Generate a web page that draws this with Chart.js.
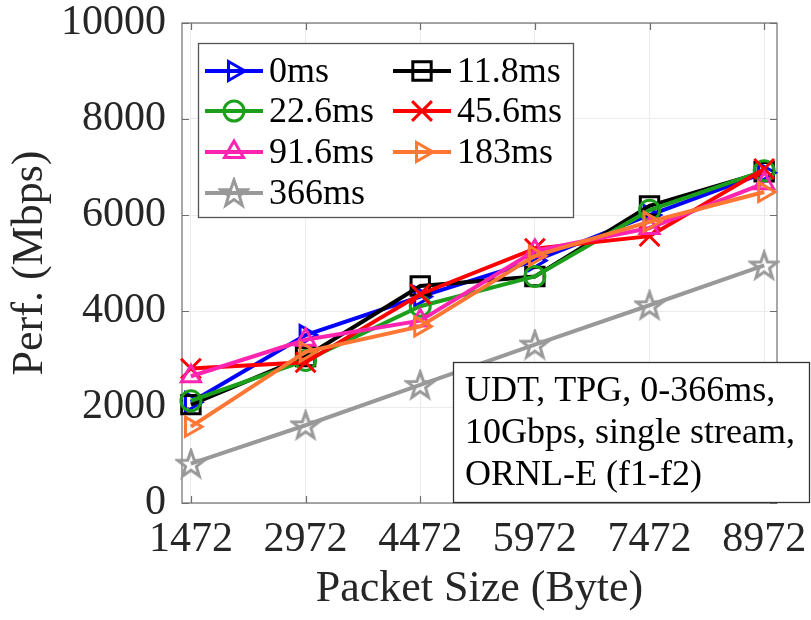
<!DOCTYPE html>
<html>
<head>
<meta charset="utf-8">
<script src="https://cdn.jsdelivr.net/npm/chart.js@4.4.1/dist/chart.umd.min.js"></script>
<style>
  html, body { margin: 0; padding: 0; background: #fff; }
</style>
</head>
<body>
<canvas id="chart" width="811" height="620"></canvas>
<script>
// ---- data ----
const packetSizes = [1472, 2972, 4472, 5972, 7472, 8972];
const yTicks = [0, 2000, 4000, 6000, 8000, 10000];
const seriesNames = ['0ms', '11.8ms', '22.6ms', '45.6ms', '91.6ms', '183ms', '366ms'];
const perf0ms   = [2100, 3500, 4300, 5050, 6000, 6880];
const perf11_8  = [2050, 3050, 4520, 4720, 6190, 6900];
const perf22_6  = [2130, 2970, 4100, 4720, 6100, 6920];
const perf45_6  = [2800, 2930, 4350, 5300, 5560, 6960];
const perf91_6  = [2640, 3400, 3800, 5250, 5730, 6660];
const perf183   = [1590, 3150, 3680, 5150, 5860, 6480];
const perf366   = [820, 1620, 2460, 3300, 4120, 4950];
const annotationLines = ['UDT, TPG, 0-366ms,', '10Gbps, single stream,', 'ORNL-E (f1-f2)'];

const FONT = '"Liberation Serif", "Times New Roman", serif';
const INK = '#262626';

// open pentagram for the 366ms series (no built-in style for it)
function makeStar(color) {
    const c = document.createElement('canvas');
    c.width = 32; c.height = 32;
    const g = c.getContext('2d');
    g.strokeStyle = color; g.lineWidth = 3; g.lineJoin = 'miter';
    g.beginPath();
    for (let k = 0; k < 10; k++) {
        const r = k % 2 === 0 ? 14 : 5.6;
        const a = -Math.PI / 2 + k * Math.PI / 5;
        const px = 16 + r * Math.cos(a), py = 17 + r * Math.sin(a);
        k === 0 ? g.moveTo(px, py) : g.lineTo(px, py);
    }
    g.closePath(); g.stroke();
    return c;
}

const styles = [
    { color: '#0000ff', style: 'triangle', rot: 90, r: 11 },
    { color: '#000000', style: 'rect', rot: 0, r: 13 },
    { color: '#1ca01c', style: 'circle', rot: 0, r: 10 },
    { color: '#ff0000', style: 'crossRot', rot: 0, r: 14 },
    { color: '#ff24b0', style: 'triangle', rot: 0, r: 11 },
    { color: '#ff7733', style: 'triangle', rot: 90, r: 11 },
    { color: '#999999', style: makeStar('#999999'), rot: 0, r: 13 }
];
const seriesValues = [perf0ms, perf11_8, perf22_6, perf45_6, perf91_6, perf183, perf366];

const datasets = seriesValues.map((vals, i) => ({
    label: seriesNames[i],
    data: vals.map((v, j) => ({ x: packetSizes[j], y: v })),
    borderColor: styles[i].color,
    borderWidth: 4,
    pointStyle: styles[i].style,
    pointRotation: styles[i].rot,
    pointRadius: styles[i].r,
    pointBorderWidth: 3,
    pointBorderColor: styles[i].color,
    pointBackgroundColor: 'rgba(0,0,0,0)',
    tension: 0,
    clip: false,
    order: seriesValues.length - 1 - i
}));

// axes box, inward ticks, legend and text box
const decorations = {
    id: 'decorations',
    beforeDatasetsDraw(chart) {
        const { ctx, chartArea: a, scales } = chart;
        ctx.save();
        ctx.strokeStyle = '#6e6e6e';
        ctx.lineWidth = 1.2;
        ctx.strokeRect(a.left, a.top, a.right - a.left, a.bottom - a.top);
        ctx.beginPath();
        packetSizes.forEach(v => {
            const x = Math.round(scales.x.getPixelForValue(v)) + 0.5;
            ctx.moveTo(x, a.bottom); ctx.lineTo(x, a.bottom - 7);
            ctx.moveTo(x, a.top); ctx.lineTo(x, a.top + 7);
        });
        yTicks.forEach(v => {
            const y = Math.round(scales.y.getPixelForValue(v)) + 0.5;
            ctx.moveTo(a.left, y); ctx.lineTo(a.left + 7, y);
            ctx.moveTo(a.right, y); ctx.lineTo(a.right - 7, y);
        });
        ctx.stroke();
        ctx.restore();
    },
    afterDatasetsDraw(chart) {
        const { ctx } = chart;
        ctx.save();
        // legend
        ctx.fillStyle = '#fff';
        ctx.fillRect(198, 43, 375, 174);
        ctx.strokeStyle = '#555';
        ctx.lineWidth = 1.3;
        ctx.strokeRect(198.5, 43.5, 375, 174);
        const colX = [205, 393];
        const rowY = [71, 111, 152, 193];
        chart.data.datasets.forEach((ds, i) => {
            const x0 = colX[i % 2], y0 = rowY[Math.floor(i / 2)];
            ctx.strokeStyle = ds.borderColor;
            ctx.lineWidth = 4;
            ctx.beginPath(); ctx.moveTo(x0, y0); ctx.lineTo(x0 + 58, y0); ctx.stroke();
            ctx.fillStyle = 'rgba(0,0,0,0)';
            ctx.lineWidth = ds.pointBorderWidth;
            Chart.helpers.drawPoint(ctx, {
                pointStyle: ds.pointStyle, rotation: ds.pointRotation,
                radius: ds.pointRadius, borderWidth: ds.pointBorderWidth
            }, x0 + 29, y0);
            ctx.fillStyle = '#000';
            ctx.font = '36px ' + FONT;
            ctx.textBaseline = 'middle';
            ctx.textAlign = 'left';
            ctx.fillText(ds.label, x0 + 64, y0 + 2);
        });
        // annotation box
        ctx.fillStyle = '#fff';
        ctx.fillRect(453, 362, 358, 141);
        ctx.strokeStyle = '#333';
        ctx.lineWidth = 1.3;
        ctx.strokeRect(453.5, 362.5, 356, 140);
        ctx.fillStyle = '#000';
        ctx.font = '36px ' + FONT;
        ctx.textBaseline = 'middle';
        annotationLines.forEach((t, k) => ctx.fillText(t, 465, 392 + k * 42));
        ctx.restore();
    }
};

new Chart(document.getElementById('chart'), {
    type: 'line',
    data: { datasets },
    options: {
        responsive: false,
        animation: false,
        layout: { padding: { top: 23, right: 34, left: 0, bottom: 0 } },
        plugins: { legend: { display: false }, tooltip: { enabled: false } },
        scales: {
            x: {
                type: 'linear', min: 1355, max: 9140,
                afterBuildTicks: s => { s.ticks = packetSizes.map(v => ({ value: v })); },
                afterFit: s => { s.height = 117; s.paddingLeft = 0; s.paddingRight = 0; },
                grid: { color: '#ebebeb', drawTicks: false },
                border: { display: false },
                ticks: { font: { family: FONT, size: 42 }, color: INK, padding: 12, maxRotation: 0, autoSkip: false, callback: v => String(v) },
                title: { display: true, text: 'Packet Size (Byte)', font: { family: FONT, size: 44 }, color: INK, padding: { top: 0, bottom: 4 } }
            },
            y: {
                min: 0, max: 10000,
                afterBuildTicks: s => { s.ticks = yTicks.map(v => ({ value: v })); },
                afterFit: s => { s.width = 182; s.paddingTop = 0; s.paddingBottom = 0; },
                grid: { color: '#ebebeb', drawTicks: false },
                border: { display: false },
                ticks: { font: { family: FONT, size: 42 }, color: INK, padding: 16, callback: v => String(v) },
                title: { display: true, text: 'Perf. (Mbps)', font: { family: FONT, size: 44 }, color: INK, padding: { top: 4, bottom: 0 } }
            }
        }
    },
    plugins: [decorations]
});
</script>
</body>
</html>
